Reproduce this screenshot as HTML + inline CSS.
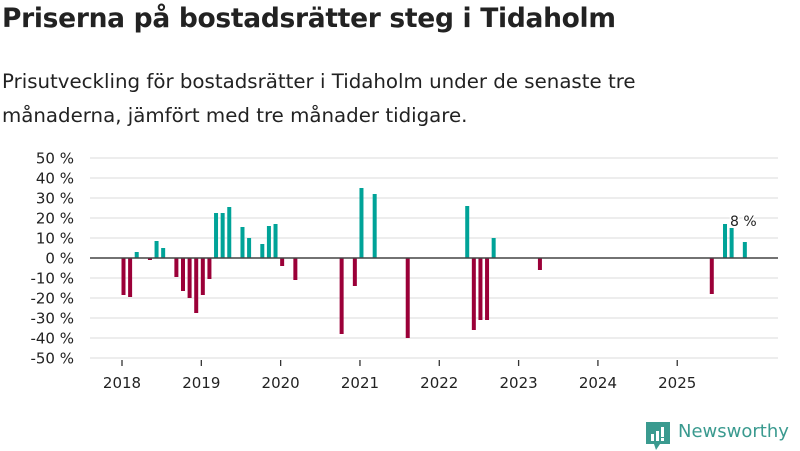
<!DOCTYPE html>
<html><head><meta charset="utf-8"><style>
body{margin:0;width:800px;height:450px;background:#fff;font-family:"Liberation Sans","DejaVu Sans",sans-serif;color:#222;overflow:hidden;position:relative}
#title{position:absolute;left:2px;top:3px;font-size:26.5px;font-weight:bold;font-family:"DejaVu Sans","Liberation Sans",sans-serif;letter-spacing:-0.3px}
#sub{position:absolute;left:2px;top:65px;font-size:19.8px;line-height:34px;font-family:"DejaVu Sans","Liberation Sans",sans-serif;color:#222}
svg{position:absolute;left:0;top:0}
#logo{position:absolute;left:645px;top:421px;font-size:18px;color:#3a9a8f;font-family:"DejaVu Sans","Liberation Sans",sans-serif;white-space:nowrap}
</style></head><body>
<div id="title">Priserna på bostadsrätter steg i Tidaholm</div>
<div id="sub">Prisutveckling för bostadsrätter i Tidaholm under de senaste tre<br>månaderna, jämfört med tre månader tidigare.</div>
<svg id="chart" width="800" height="450"></svg>
<div id="logo"><svg width="26" height="30" viewBox="0 0 26 30" style="position:absolute;left:0;top:0"><path d="M1 1h24v22h-10l-4 6-2-6h-8z" fill="#3a9a8f"/><rect x="6" y="13" width="3" height="7" fill="#fff"/><rect x="11" y="10" width="3" height="10" fill="#fff"/><rect x="16" y="6" width="3" height="10" fill="#fff"/><rect x="16" y="17" width="3" height="3" fill="#fff"/></svg><span style="margin-left:33px">Newsworthy</span></div>
<script>
const months=["2018-01","2018-02","2018-03","2018-05","2018-06","2018-07","2018-09","2018-10","2018-11","2018-12","2019-01","2019-02","2019-03","2019-04","2019-05","2019-07","2019-08","2019-10","2019-11","2019-12","2020-01","2020-03","2020-10","2020-12","2021-01","2021-03","2021-08","2022-05","2022-06","2022-07","2022-08","2022-09","2023-04","2025-06","2025-08","2025-09","2025-11"];
const values=[-18.5,-19.5,3,-1,8.5,5,-9.5,-16.5,-20,-27.5,-18.5,-10.5,22.5,22.5,25.5,15.5,10,7,16,17,-4,-11,-38,-14,35,32,-40,26,-36,-31,-31,10,-6,-18,17,15,8];
const yTicks=[50,40,30,20,10,0,-10,-20,-30,-40,-50];
const xYears=[2018,2019,2020,2021,2022,2023,2024,2025];
const NS="http://www.w3.org/2000/svg";
const svg=document.getElementById('chart');
const y=v=>258-v*2;
const xm=s=>{const [a,b]=s.split('-').map(Number);return 122+((a-2018)*12+(b-1))*6.61;};
function mk(t,a){const e=document.createElementNS(NS,t);for(const k in a)e.setAttribute(k,a[k]);svg.appendChild(e);return e;}
yTicks.forEach(v=>{
 if(v!==0){const l=mk('line',{x1:90,x2:778,y1:y(v),y2:y(v),stroke:'#e2e2e2','stroke-width':1.3});
 
 }
 const t=mk('text',{x:74,y:y(v)+5.5,'text-anchor':'end','font-size':15,fill:'#222','font-family':'DejaVu Sans, Liberation Sans, sans-serif'});
 t.textContent=v+' %';
 
 
});
xYears.forEach(yr=>{
 const x=xm(yr+'-01');
 const l=mk('line',{x1:x,x2:x,y1:360,y2:366,stroke:'#333','stroke-width':1.3});
 
 
 const t=mk('text',{x:x,y:388,'text-anchor':'middle','font-size':15,fill:'#222','font-family':'DejaVu Sans, Liberation Sans, sans-serif'});
 t.textContent=yr;
 
 
});
months.forEach((m,i)=>{
 const v=values[i];const x=xm(m)-0.5;
 const r=mk('rect',{x:x,width:4,y:Math.min(y(v),y(0)),height:Math.abs(y(v)-y(0)),fill:v>=0?'#00a398':'#9b0038'});
 
 
});
const z=mk('line',{x1:90,x2:778,y1:y(0),y2:y(0),stroke:'#444','stroke-width':1.6});


const li=months.length-1;
const lab=mk('text',{x:xm(months[li])+0,y:y(values[li])-16,'text-anchor':'middle','font-size':14,fill:'#222','font-family':'DejaVu Sans, Liberation Sans, sans-serif',stroke:'#fff','stroke-width':3,'paint-order':'stroke'});
lab.textContent=values[li]+' %';


</script>
</body></html>
